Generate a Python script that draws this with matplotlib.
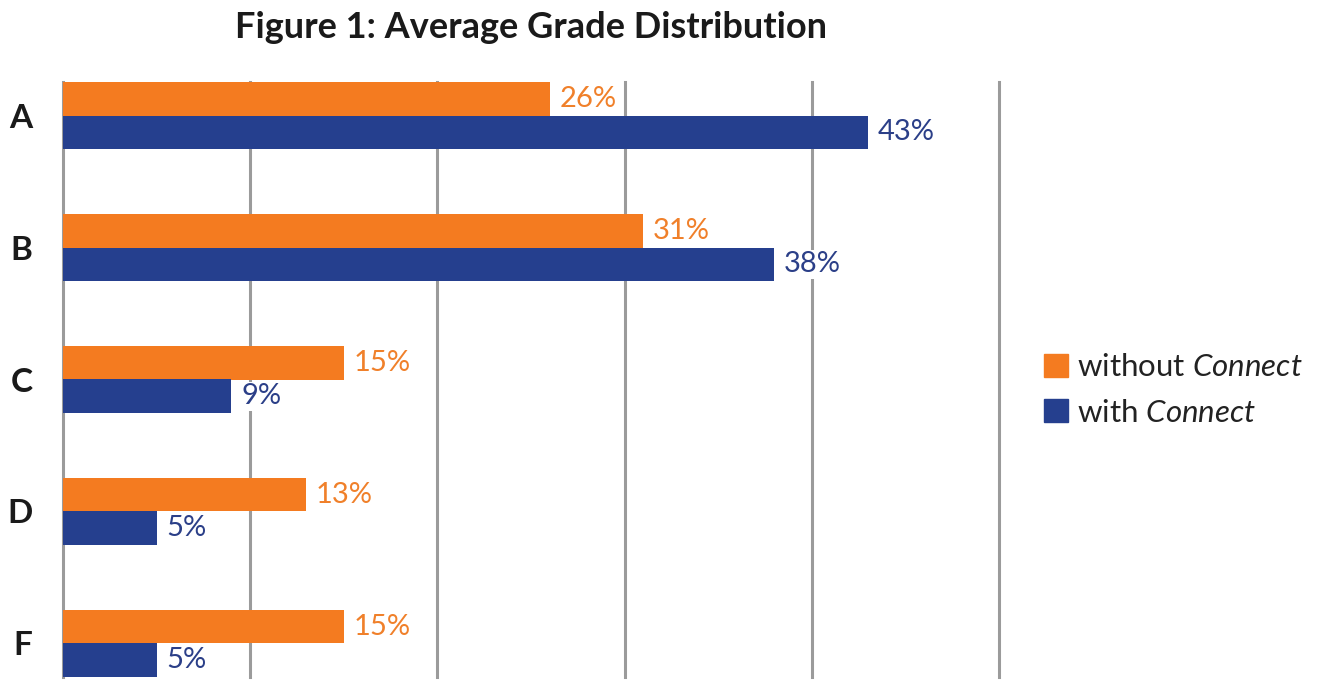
import numpy as np
import matplotlib
matplotlib.use("Agg")
import matplotlib.pyplot as plt
from matplotlib.patches import Patch

# Chart settings
plt.rcParams["font.family"] = ["Lato", "DejaVu Sans"]
plt.rcParams["mathtext.fontset"] = "custom"
plt.rcParams["mathtext.rm"] = "Lato"
plt.rcParams["mathtext.it"] = "Lato:italic"

orange = "#F47B20"
blue = "#253F8E"
orange_txt = "#F0802A"
blue_txt = "#2B3F88"
gray = "#9B9B9B"

grades = ["A", "B", "C", "D", "F"]
without_connect = [26, 31, 15, 13, 15]
with_connect = [43, 38, 9, 5, 5]
grid_ticks = [0, 10, 20, 30, 40, 50]

fig = plt.figure(figsize=(13.22, 6.98), dpi=100)
ax = fig.add_axes([63 / 1322, 1 - 677 / 698, (999 - 63) / 1322, (677 - 82) / 698])

h = 0.254  # bar height
y = np.arange(len(grades))
ax.barh(y - h / 2, without_connect, height=h, color=orange, zorder=2)
ax.barh(y + h / 2, with_connect, height=h, color=blue, zorder=2)

# value labels to the right of each bar
for yi, v in zip(y, without_connect):
    ax.annotate(f"{v}%", (v, yi - h / 2), xytext=(7, 0), textcoords="offset points",
                va="center", ha="left", fontsize=21, color=orange_txt, zorder=3,
                bbox=dict(facecolor="white", edgecolor="none", pad=1))
for yi, v in zip(y, with_connect):
    ax.annotate(f"{v}%", (v, yi + h / 2), xytext=(7, 0), textcoords="offset points",
                va="center", ha="left", fontsize=21, color=blue_txt, zorder=3,
                bbox=dict(facecolor="white", edgecolor="none", pad=1))

ax.set_xlim(0, 50)
ax.set_ylim(len(grades) - 1 + h, -h)
ax.set_xticks(grid_ticks)
ax.set_xticklabels([])
ax.set_yticks(y)
ax.set_yticklabels(grades, fontsize=24, fontweight="bold", color="#1a1a1a")
ax.tick_params(axis="both", length=0)
ax.tick_params(axis="y", pad=22)
ax.grid(axis="x", color=gray, linewidth=2.2, zorder=1)
for gl in ax.get_xgridlines():
    gl.set_clip_on(False)
ax.set_axisbelow(True)
for s in ax.spines.values():
    s.set_visible(False)

fig.text(531 / 1322, 1 - 27 / 698, "Figure 1: Average Grade Distribution",
         ha="center", va="center", fontsize=26, fontweight="bold", color="#1a1a1a")

handles = [Patch(color=orange), Patch(color=blue)]
fig.legend(handles, ["without $Connect$", "with $Connect$"],
           loc="center left", bbox_to_anchor=(1016 / 1322, 1 - 390 / 698),
           frameon=False, fontsize=22.5, handlelength=0.75, handleheight=0.75,
           handletextpad=0.3, labelspacing=0.55, labelcolor="#222222")

fig.savefig("out.png", dpi=100)
